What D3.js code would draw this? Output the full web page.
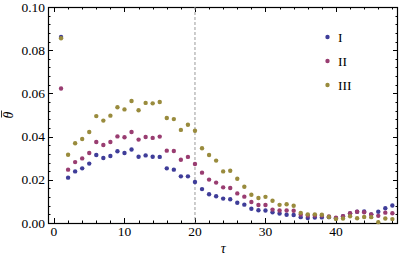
<!DOCTYPE html>
<html>
<head>
<meta charset="utf-8">
<script src="https://cdn.jsdelivr.net/npm/d3@7"></script>
<style>
  body { margin: 0; background: #fff; }
  svg { display: block; }
  text { font-family: "Liberation Serif", "Times New Roman", serif; }
</style>
</head>
<body>
<div id="chart"></div>
<script>
const tau = d3.range(1, 49);

const seriesI = [
  0.0861, 0.0210, 0.0239, 0.0253, 0.0275, 0.0315, 0.0301, 0.0310, 0.0332, 0.0324,
  0.0340, 0.0307, 0.0313, 0.0307, 0.0306, 0.0253, 0.0247, 0.0216, 0.0216, 0.0190,
  0.0157, 0.0133, 0.0124, 0.0113, 0.0110, 0.0094, 0.0085, 0.0066, 0.0059, 0.0058,
  0.0050, 0.0044, 0.0038, 0.0037, 0.0027, 0.0023, 0.0025, 0.0026, 0.0027, 0.0022,
  0.0031, 0.0044, 0.0052, 0.0053, 0.0040, 0.0052, 0.0068, 0.0081
];
const seriesII = [
  0.0623, 0.0247, 0.0282, 0.0299, 0.0324, 0.0375, 0.0361, 0.0375, 0.0401, 0.0397,
  0.0421, 0.0386, 0.0398, 0.0394, 0.0400, 0.0335, 0.0333, 0.0293, 0.0306, 0.0273,
  0.0233, 0.0201, 0.0187, 0.0165, 0.0162, 0.0137, 0.0122, 0.0097, 0.0083, 0.0083,
  0.0062, 0.0058, 0.0058, 0.0057, 0.0039, 0.0035, 0.0035, 0.0035, 0.0030, 0.0024,
  0.0032, 0.0045, 0.0052, 0.0050, 0.0040, 0.0033, 0.0048, 0.0045
];
const seriesIII = [
  0.0855, 0.0316, 0.0369, 0.0389, 0.0421, 0.0495, 0.0474, 0.0497, 0.0536, 0.0526,
  0.0565, 0.0522, 0.0556, 0.0554, 0.0560, 0.0486, 0.0481, 0.0431, 0.0455, 0.0427,
  0.0346, 0.0315, 0.0289, 0.0239, 0.0242, 0.0205, 0.0168, 0.0131, 0.0116, 0.0121,
  0.0103, 0.0084, 0.0087, 0.0080, 0.0047, 0.0040, 0.0040, 0.0038, 0.0028, 0.0018,
  0.0021, 0.0031, 0.0022, 0.0028, 0.0027, 0.0004, 0.0021, 0.0018
];

const seriesNames = ['I', 'II', 'III'];
const seriesColors = ['#3F3D99', '#993D71', '#998B3D'];
const xTicks = [0, 10, 20, 30, 40];
const yTicks = [0, 0.02, 0.04, 0.06, 0.08, 0.10];
const refTau = 20;

const width = 399, height = 259;
const plotLeft = 48, plotRight = 398, plotTop = 7, plotBottom = 223;

const svg = d3.select('#chart').append('svg')
  .attr('width', width)
  .attr('height', height);

const x = d3.scaleLinear().domain([-0.85, 48.8]).range([plotLeft, plotRight]);
const y = d3.scaleLinear().domain([0, 0.1]).range([plotBottom, plotTop]);

const xMinor = d3.range(0, 49, 2).filter(v => !xTicks.includes(v));
const yMinor = d3.range(0, 0.1001, 0.004).filter(v => !yTicks.some(t => Math.abs(t - v) < 1e-6));

const frame = svg.append('g').attr('stroke', '#000').attr('stroke-width', 1);

// ticks on all four sides, pointing inward
function tickLines(vals, len, horiz) {
  vals.forEach(v => {
    if (horiz) {
      const px = Math.round(x(v)) + 0.5;
      frame.append('line').attr('x1', px).attr('x2', px).attr('y1', plotBottom).attr('y2', plotBottom - len);
      frame.append('line').attr('x1', px).attr('x2', px).attr('y1', plotTop).attr('y2', plotTop + len);
    } else {
      const py = Math.round(y(v)) + 0.5;
      frame.append('line').attr('x1', plotLeft).attr('x2', plotLeft + len).attr('y1', py).attr('y2', py);
      frame.append('line').attr('x1', plotRight).attr('x2', plotRight - len).attr('y1', py).attr('y2', py);
    }
  });
}
tickLines(xTicks, 5, true);
tickLines(xMinor, 2.5, true);
tickLines(yTicks, 5, false);
tickLines(yMinor, 2.5, false);

frame.append('rect')
  .attr('x', plotLeft + 0.5).attr('y', plotTop + 0.5)
  .attr('width', plotRight - plotLeft - 1).attr('height', plotBottom - plotTop)
  .attr('fill', 'none')
  .attr('stroke-width', 1.2);

// reference line
svg.append('line')
  .attr('x1', x(refTau)).attr('x2', x(refTau))
  .attr('y1', plotTop).attr('y2', plotBottom)
  .attr('stroke', '#999')
  .attr('stroke-width', 1)
  .attr('stroke-dasharray', '3,2');

// tick labels
svg.append('g').selectAll('text')
  .data(xTicks)
  .join('text')
  .attr('x', d => x(d))
  .attr('y', 236)
  .attr('text-anchor', 'middle')
  .attr('font-size', 13.5)
  .text(d => d);

svg.append('g').selectAll('text')
  .data(yTicks)
  .join('text')
  .attr('x', 45)
  .attr('y', d => y(d) + 4.5)
  .attr('text-anchor', 'end')
  .attr('font-size', 13.5)
  .text(d => d3.format('.2f')(d));

// axis labels
svg.append('text')
  .attr('x', x(24))
  .attr('y', 253)
  .attr('text-anchor', 'middle')
  .attr('font-size', 14)
  .attr('font-style', 'italic')
  .text('τ');

const yLab = svg.append('g').attr('transform', 'translate(13,115) rotate(-90)');
yLab.append('text')
  .attr('text-anchor', 'middle')
  .attr('font-size', 14)
  .attr('font-style', 'italic')
  .text('θ');
yLab.append('line')
  .attr('x1', -2.5).attr('x2', 4.5)
  .attr('y1', -11.5).attr('y2', -11.5)
  .attr('stroke', '#000')
  .attr('stroke-width', 0.8);

// points
const allSeries = [seriesI, seriesII, seriesIII];
allSeries.forEach((vals, i) => {
  svg.append('g').selectAll('circle')
    .data(vals)
    .join('circle')
    .attr('cx', (d, j) => x(tau[j]))
    .attr('cy', d => y(d))
    .attr('r', 2.2)
    .attr('fill', seriesColors[i]);
});

// legend
const legend = svg.append('g');
seriesNames.forEach((name, i) => {
  const ly = 37 + i * 24;
  legend.append('circle').attr('cx', 327.5).attr('cy', ly).attr('r', 2.2).attr('fill', seriesColors[i]);
  legend.append('text').attr('x', 338).attr('y', ly + 4.5).attr('font-size', 13.5).text(name);
});
</script>
</body>
</html>
